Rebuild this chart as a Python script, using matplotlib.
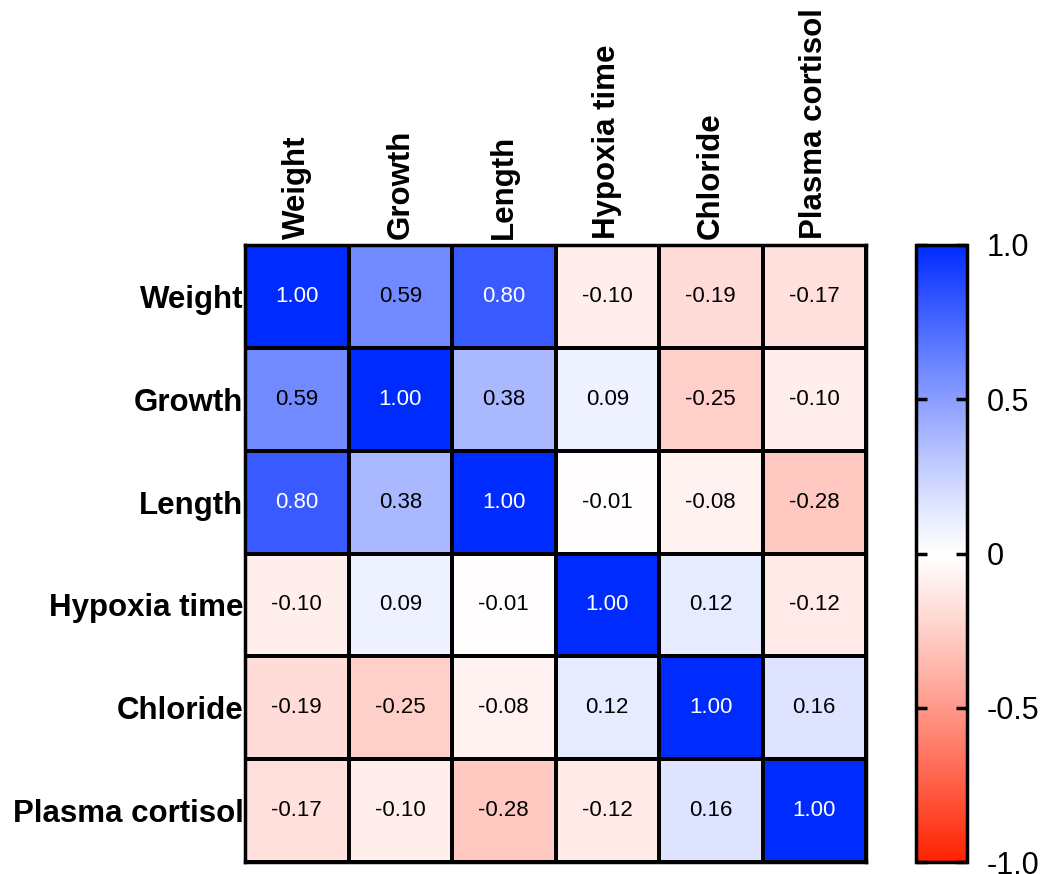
import numpy as np
import matplotlib
matplotlib.use("Agg")
import matplotlib.pyplot as plt
from matplotlib.colors import ListedColormap

plt.rcParams['font.family'] = ['Liberation Sans', 'DejaVu Sans']

variables = ["Weight", "Growth", "Length", "Hypoxia time", "Chloride", "Plasma cortisol"]
weight = [1.00, 0.59, 0.80, -0.10, -0.19, -0.17]
growth = [0.59, 1.00, 0.38, 0.09, -0.25, -0.10]
length = [0.80, 0.38, 1.00, -0.01, -0.08, -0.28]
hypoxia = [-0.10, 0.09, -0.01, 1.00, 0.12, -0.12]
chloride = [-0.19, -0.25, -0.08, 0.12, 1.00, 0.16]
cortisol = [-0.17, -0.10, -0.28, -0.12, 0.16, 1.00]
corr = np.array([weight, growth, length, hypoxia, chloride, cortisol])

# diverging red-white-blue map, white fading a bit slower near zero
red_end = np.array([1.0, 0.13, 0.0])
blue_end = np.array([0.0, 0.17, 1.0])
white = np.ones(3)
t = np.linspace(-1, 1, 513)
frac = np.abs(t) ** 1.12
ends = np.where(t[:, None] < 0, red_end, blue_end)
cmap = ListedColormap(white * (1 - frac[:, None]) + ends * frac[:, None])

W, H = 1047, 874
fig = plt.figure(figsize=(W / 100, H / 100), dpi=100)
ax = fig.add_axes([245 / W, 1 - 862 / H, (866 - 245) / W, (862 - 245) / H])
cax = fig.add_axes([916 / W, 1 - 862 / H, (967 - 916) / W, (862 - 245) / H])

n = len(variables)
im = ax.pcolormesh(np.arange(n + 1), np.arange(n + 1), corr, cmap=cmap,
                   vmin=-1, vmax=1, edgecolor="black", linewidth=1.6)
ax.set_xlim(0, n)
ax.set_ylim(n, 0)

for i in range(n):
    for j in range(n):
        v = corr[i, j]
        ax.text(j + 0.5, i + 0.5, f"{v:.2f}", ha="center", va="center",
                fontsize=16, color="white" if v >= 0.7 else "black")

ax.xaxis.tick_top()
ax.set_xticks(np.arange(n) + 0.5)
ax.set_xticklabels(variables, rotation=90, fontsize=22.5, fontweight="bold")
ax.set_yticks(np.arange(n) + 0.5)
ax.set_yticklabels(variables, fontsize=22.5, fontweight="bold")
ax.tick_params(axis="y", length=0, pad=1)
ax.tick_params(axis="x", length=0, pad=4)
for s in ax.spines.values():
    s.set_linewidth(2.5)

cb = fig.colorbar(im, cax=cax)
cb.set_ticks([-1, -0.5, 0, 0.5, 1])
cb.set_ticklabels(["-1.0", "-0.5", "0", "0.5", "1.0"])
cax.tick_params(axis="y", direction="in", length=8, width=2.5, labelsize=22,
                pad=14, left=True, right=True)
cb.outline.set_linewidth(2.5)

fig.savefig("out.png", dpi=100)
